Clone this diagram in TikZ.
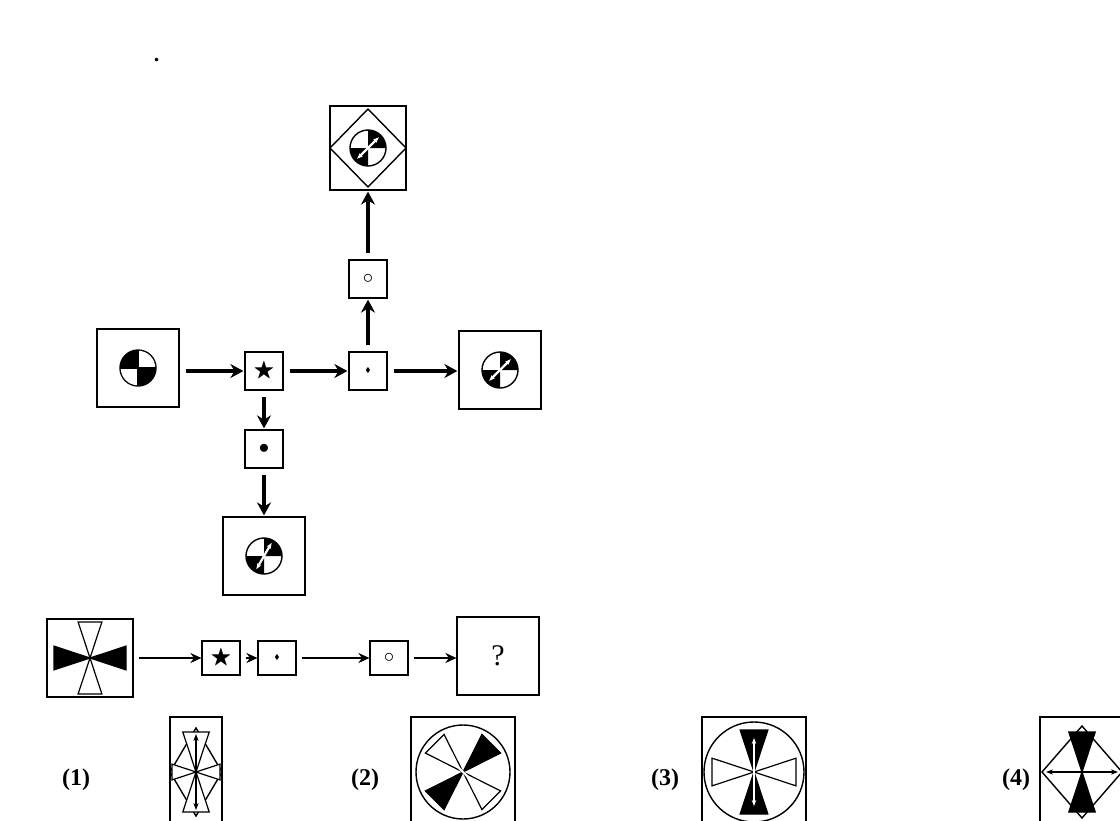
\documentclass[tikz,border=0pt]{standalone}
\usepackage{amssymb}
\usepackage{fontspec}
\setmainfont{Liberation Serif}
\usetikzlibrary{arrows.meta,calc}
\tikzset{
  flow/.style={line width=3.6pt, shorten <=6pt, shorten >=1pt, -{Stealth[length=13pt,width=14pt]}},
  thinflow/.style={line width=2.2pt, shorten <=5pt, -{Stealth[length=11pt,width=10pt]}},
  bigbox/.style={draw, line width=1.2pt, minimum width=82pt, minimum height=78pt, inner sep=0pt},
  smallbox/.style={draw, line width=1.2pt, minimum width=38pt, minimum height=38pt, inner sep=0pt, font=\fontsize{22}{24}\selectfont},
  optbox/.style={draw, line width=1.2pt, minimum width=108pt, minimum height=110pt, inner sep=0pt},
  label/.style={font=\bfseries\fontsize{24}{26}\selectfont},
}
% quartered disc with a white double arrow
\newcommand{\quadisc}[2]{%
  \draw[line width=1.4pt] (#1) circle (#2);
  \fill (#1) -- ++(270:#2) arc (270:360:#2) -- cycle;
  \fill (#1) -- ++(90:#2) arc (90:180:#2) -- cycle;
}
\newcommand{\arrdisc}[3]{%
  \quadisc{#1}{#2}
  \draw[white, line width=2.2pt, {Stealth[length=6pt]}-{Stealth[length=6pt]}] ($(#1)+(#3:0.85*#2)$) -- ($(#1)+(#3+180:0.85*#2)$);
}
\newcommand{\tieicon}[4]{% centre, angle, half length, fill
  \filldraw[fill=#4, line width=1.2pt, rotate around={#2:(#1)}] (#1) -- ++(#3,0.33*#3) -- ++(0,-0.66*#3) -- cycle
    (#1) -- ++(-#3,0.33*#3) -- ++(0,-0.66*#3) -- cycle;
}
\begin{document}
\begin{tikzpicture}[x=1pt, y=-1pt]
  \useasboundingbox (0,0) rectangle (1120,820);
  % question text
  \node[anchor=west, font=\bfseries\fontsize{22}{24}\selectfont] (qa) at (8,28) {पुढे दिलेल्या आकृतीचा अभ्यास करून छोट्या चौकटींत दिलेल्या चिन्हांनी केलेल्या कृतिमालिका};
  \node[anchor=west, font=\bfseries\fontsize{22}{24}\selectfont] (qb) at (8,60) {करून घ्या. या कृतींच्या विसंकेतित अर्थाच्या आधारे दिलेल्या कृतिमालिकेतील प्रश्नचिन्हासाठी पर्याय};
  % upper scheme
  \node[bigbox] (left) at (138,368) {};
  \node[smallbox] (star) at (264,371) {$\bigstar$};
  \node[smallbox] (dot) at (368,371) {\scriptsize$\blacklozenge$};
  \node[bigbox] (right) at (500,370) {};
  \node[smallbox] (ring) at (368,279) {$\circ$};
  \node[bigbox, minimum width=76pt, minimum height=84pt] (top) at (368,148) {};
  \node[smallbox] (bull) at (264,449) {$\bullet$};
  \node[bigbox] (bottom) at (264,556) {};
  \draw[flow] (left.east |- star) -- (star);
  \draw[flow] (star) -- (dot);
  \draw[flow] (dot) -- (right.west |- dot);
  \draw[flow] (dot) -- (ring);
  \draw[flow] (ring) -- (top);
  \draw[flow] (star) -- (bull);
  \draw[flow] (bull) -- (bottom);
  % icons
  \quadisc{left.center}{18}
  \fill (left.center) -- ++(180:18) arc (180:270:18) -- cycle;
  \fill[white] (left.center) -- ++(270:17.3) arc (270:360:17.3) -- cycle;
  \fill[white] (left.center) -- ++(90:17.3) arc (90:180:17.3) -- cycle;
  \fill (left.center) -- ++(0:18) arc (0:90:18) -- cycle;
  \draw[line width=1.4pt] (left.center) ++(-18,0) -- ++(36,0) (left.center) ++(0,-18) -- ++(0,36);
  \arrdisc{right.center}{18}{-45}
  \draw[line width=1.4pt] (top.center) ++(0,-39) -- ++(38,39) -- ++(-38,39) -- ++(-38,-39) -- cycle;
  \arrdisc{top.center}{18}{-45}
  \arrdisc{bottom.center}{18}{-60}
  % lower scheme
  \node[bigbox, minimum width=86pt] (hour) at (90,658) {};
  \node[smallbox, minimum height=34pt] (star2) at (221,658) {$\bigstar$};
  \node[smallbox, minimum height=34pt] (dot2) at (277,658) {\scriptsize$\blacklozenge$};
  \node[smallbox, minimum height=34pt] (ring2) at (389,658) {$\circ$};
  \node[bigbox] (quest) at (498,656) {\fontsize{30}{32}\selectfont ?};
  \draw[thinflow] (hour.east |- star2) -- (star2);
  \draw[thinflow] (star2) -- (dot2);
  \draw[thinflow] (dot2) -- (ring2);
  \draw[thinflow] (ring2) -- (quest.west |- ring2);
  \tieicon{hour.center}{0}{36}{black}
  \tieicon{hour.center}{90}{36}{white}
  % options
  \node[label] (o1) at (76,780) {(1)};
  \node[optbox, minimum width=52pt] (b1) at (196,772) {};
  \draw[line width=1.4pt] (b1.center) ++(0,-44) -- ++(26,44) -- ++(-26,44) -- ++(-26,-44) -- cycle;
  \tieicon{b1.center}{0}{24}{white}
  \tieicon{b1.center}{90}{40}{white}
  \draw[line width=2.2pt, {Stealth[length=7pt]}-{Stealth[length=7pt]}] ($(b1.center)+(0,-38)$) -- ($(b1.center)+(0,38)$);
  \node[label] (o2) at (365,780) {(2)};
  \node[optbox, minimum width=104pt] (b2) at (463,772) {};
  \draw[line width=1.4pt] (b2.center) circle (47);
  \tieicon{b2.center}{-45}{40}{white}
  \tieicon{b2.center}{45}{40}{black}
  \draw[white, line width=2.2pt, {Stealth[length=6pt]}-{Stealth[length=6pt]}] ($(b2.center)+(225:32)$) -- ($(b2.center)+(45:32)$);
  \node[label] (o3) at (665,780) {(3)};
  \node[optbox, minimum width=104pt] (b3) at (754,772) {};
  \draw[line width=1.4pt] (b3.center) circle (50);
  \tieicon{b3.center}{0}{42}{white}
  \tieicon{b3.center}{90}{42}{black}
  \draw[white, line width=2.2pt, {Stealth[length=6pt]}-{Stealth[length=6pt]}] ($(b3.center)+(0,-34)$) -- ($(b3.center)+(0,34)$);
  \node[label] (o4) at (1016,780) {(4)};
  \node[optbox, minimum width=84pt] (b4) at (1082,772) {};
  \draw[line width=1.4pt] (b4.center) ++(0,-46) -- ++(40,46) -- ++(-40,46) -- ++(-40,-46) -- cycle;
  \tieicon{b4.center}{90}{40}{black}
  \draw[line width=2.2pt, {Stealth[length=7pt]}-{Stealth[length=7pt]}] ($(b4.center)+(-36,0)$) -- ($(b4.center)+(36,0)$);
\end{tikzpicture}
\end{document}
